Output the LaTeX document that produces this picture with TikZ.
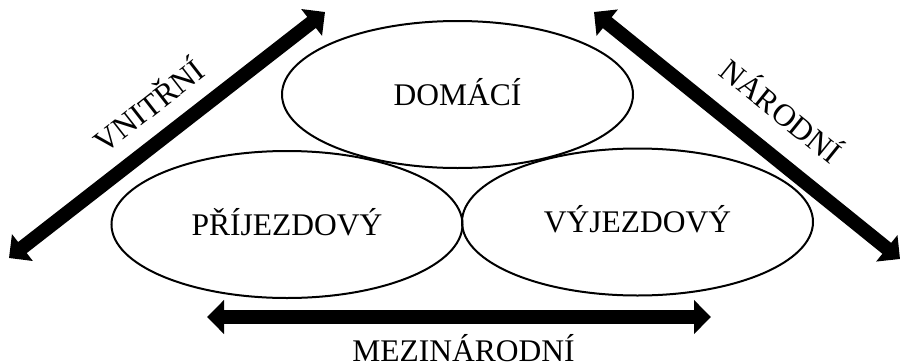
\documentclass[tikz,border=0pt]{standalone}
\usepackage{fontspec}
\setmainfont{Liberation Serif}
\usetikzlibrary{arrows.meta,shapes.geometric}
\begin{document}
\begin{tikzpicture}[x=1pt,y=-1pt,
  oval/.style={ellipse,draw,line width=2pt,minimum width=351pt,minimum height=147pt,inner sep=0pt,
     text height=21pt,text depth=0pt,font=\fontsize{31.5}{36}\selectfont},
  bigarrow/.style={line width=14pt,{Triangle[width=33pt,length=17pt]}-{Triangle[width=33pt,length=17pt]}},
  lbl/.style={inner sep=0pt,anchor=base,font=\fontsize{31.5}{36}\selectfont}]
\useasboundingbox (0,0) rectangle (900,362);
\node[oval] (dom) at (457.5,94.5) {DOMÁCÍ};
\node[oval] (pri) at (287,224.5) {PŘÍJEZDOVÝ};
\node[oval] (vyj) at (637.5,222) {VÝJEZDOVÝ};
\coordinate (l1) at (9,258);
\coordinate (l2) at (325,12);
\coordinate (r1) at (594,12);
\coordinate (r2) at (900,259);
\coordinate (h1) at (207,317);
\coordinate (h2) at (711,317);
\draw[bigarrow] (l1) -- (l2);
\draw[bigarrow] (r1) -- (r2);
\draw[bigarrow] (h1) -- (h2);
\node[lbl,rotate=37.94] (vn) at (156,115) {VNITŘNÍ};
\node[lbl,rotate=-38.86] (na) at (774,120) {NÁRODNÍ};
\node[lbl] (me) at (463.5,361) {MEZINÁRODNÍ};
\end{tikzpicture}
\end{document}
